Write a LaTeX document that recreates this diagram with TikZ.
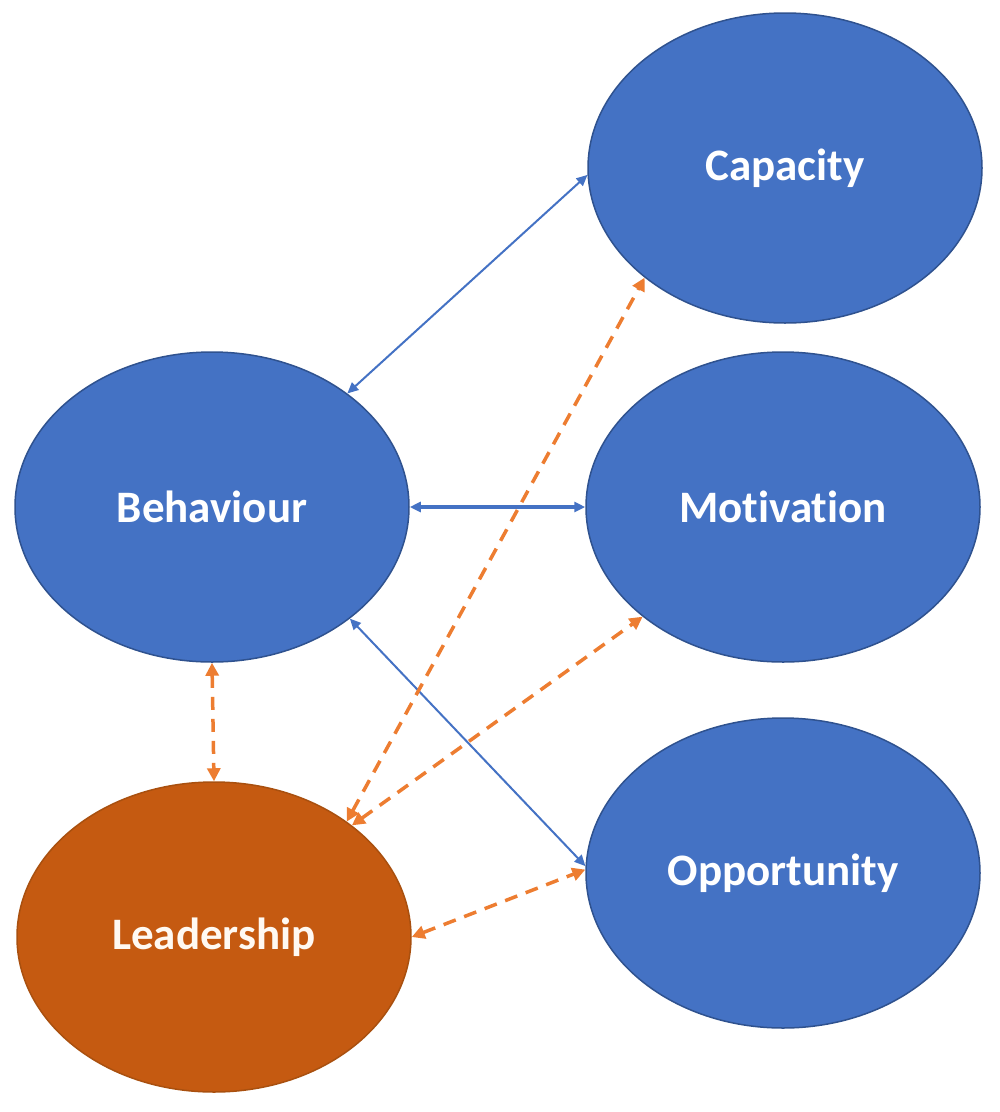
\documentclass[tikz,border=0pt]{standalone}
\usepackage{fontspec}
\setmainfont{Carlito}[Ligatures={NoCommon}]
\usetikzlibrary{arrows.meta,shapes.geometric}
\definecolor{offblue}{HTML}{4472C4}
\definecolor{blueedge}{HTML}{2F528F}
\definecolor{leadfill}{HTML}{C55A11}
\definecolor{leadedge}{HTML}{A9500F}
\definecolor{dashorange}{HTML}{ED7D31}
\tikzset{
  bubble/.style={ellipse, fill=offblue, draw=blueedge, line width=1.5pt,
    minimum width=394pt, minimum height=310pt, inner sep=0pt,
    text=white, font=\fontsize{45}{50}\selectfont\bfseries},
  leadbubble/.style={bubble, fill=leadfill, draw=leadedge, text=white!95!orange},
  bluelink/.style={draw=offblue, line width=2pt,
    {Triangle[length=11pt,width=10pt]}-{Triangle[length=11pt,width=10pt]}},
  bluethick/.style={bluelink, line width=3.5pt},
  orangelink/.style={draw=dashorange, line width=3.5pt, dash pattern=on 13pt off 9pt,
    {Triangle[length=13pt,width=13pt]}-{Triangle[length=13pt,width=13pt]}}
}
\begin{document}
\begin{tikzpicture}[x=1pt,y=-1pt]
\useasboundingbox (0,0) rectangle (1000,1112);
\node[bubble] (cap) at (785,168) {Capacity};
\node[bubble] (mot) at (783,507) {Motivation};
\node[bubble] (opp) at (783,873) {Opportunity};
\node[bubble] (beh) at (212,507) {Behaviour};
\node[leadbubble] (lead) at (214,937) {Leadership};

\draw[bluelink] (beh.40) -- (cap.182);
\draw[bluethick] (beh.east) -- (mot.west);
\draw[bluelink] (beh.-39) -- (opp.178);

\draw[orangelink] (lead.41) -- (cap.218);
\draw[orangelink] (lead.39) -- (mot.218);
\draw[orangelink] (beh.south) -- (lead.north);
\draw[orangelink] (lead.east) -- (opp.179);
\end{tikzpicture}
\end{document}
